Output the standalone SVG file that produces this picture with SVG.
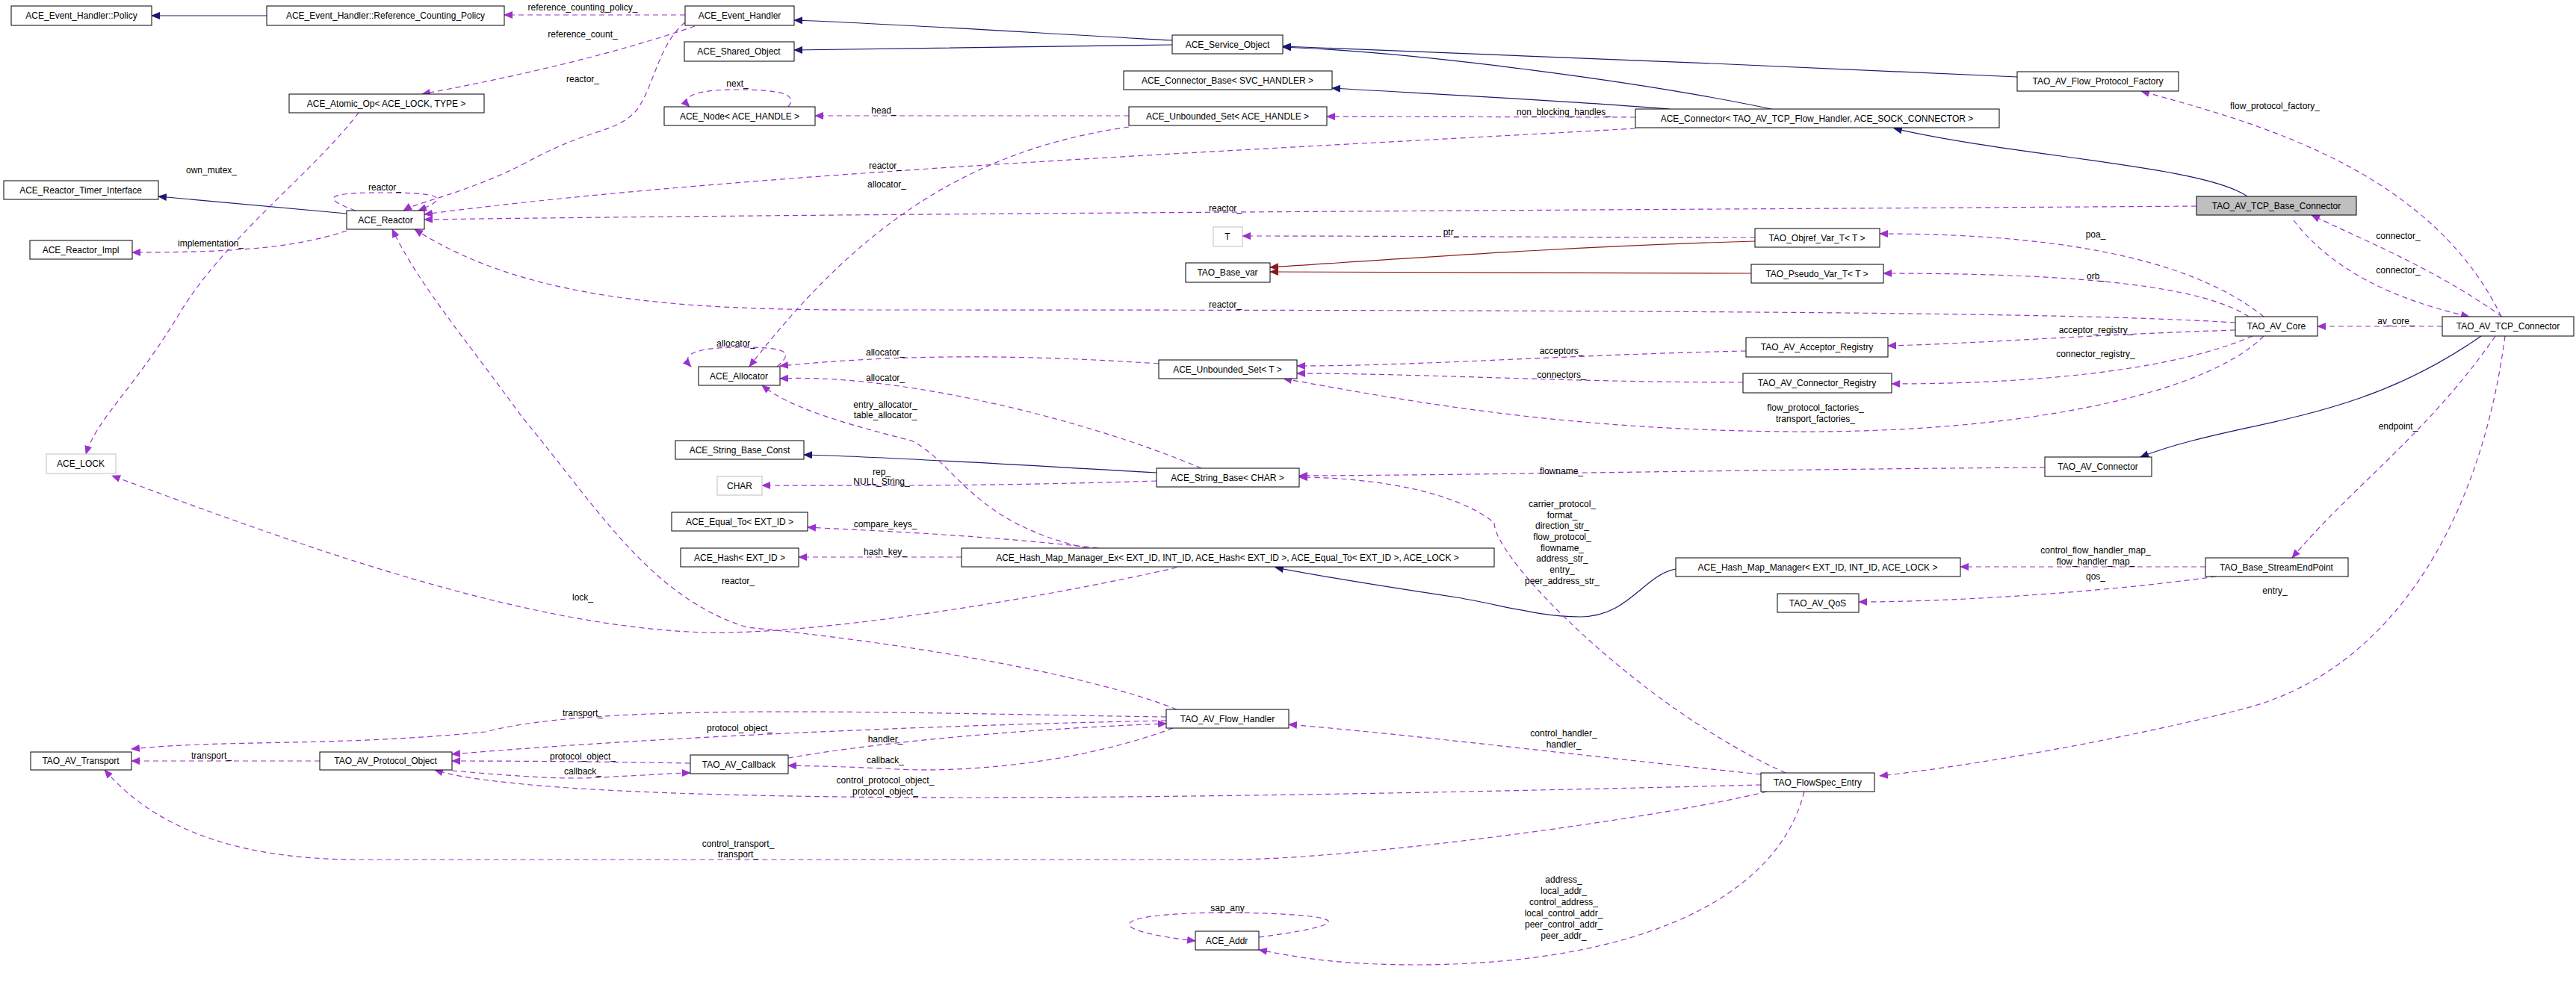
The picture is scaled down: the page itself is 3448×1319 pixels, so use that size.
<svg xmlns="http://www.w3.org/2000/svg" width="3448" height="1319" viewBox="0 0 3448 1319">
<style>
text{font-family:"Liberation Sans",Arial,sans-serif;font-size:12px;fill:#000}
.n rect{fill:#fff;stroke:#000;stroke-width:1}
.g rect{fill:#fff;stroke:#bfbfbf;stroke-width:1}
.n text,.g text,.lb{text-anchor:middle}
.b{stroke:#191970;fill:none;stroke-width:1.2;marker-end:url(#mb)}
.r{stroke:#8b1a1a;fill:none;stroke-width:1.2;marker-end:url(#mr)}
.p{stroke:#9a32cd;fill:none;stroke-width:1.2;stroke-dasharray:7,5;marker-end:url(#mp)}
</style>
<defs>
<marker id="mb" markerWidth="12" markerHeight="10" refX="11" refY="5" orient="auto" markerUnits="userSpaceOnUse"><path d="M0,0L12,5L0,10z" fill="#191970"/></marker>
<marker id="mr" markerWidth="12" markerHeight="10" refX="11" refY="5" orient="auto" markerUnits="userSpaceOnUse"><path d="M0,0L12,5L0,10z" fill="#8b1a1a"/></marker>
<marker id="mp" markerWidth="12" markerHeight="10" refX="11" refY="5" orient="auto" markerUnits="userSpaceOnUse"><path d="M0,0L12,5L0,10z" fill="#9a32cd"/></marker>
</defs>
<rect width="3448" height="1319" fill="#fff"/>
<g id="connectors">
<path class="b" d="M357,21L203,21"/>
<path class="b" d="M1569,54C1400,45 1200,32 1063,27"/>
<path class="b" d="M1569,60C1400,62 1200,66 1063,67"/>
<path class="b" d="M2700,103C2400,88 1900,70 1717,62"/>
<path class="b" d="M2371,146C2200,110 1900,70 1717,63"/>
<path class="b" d="M2235,146C2100,135 1900,125 1783,118"/>
<path class="b" d="M3008,263C2950,222 2700,210 2535,172"/>
<path class="b" d="M464,286L212,263"/>
<path class="b" d="M3321,450C3150,570 3000,560 2865,612"/>
<path class="b" d="M1548,633C1400,625 1200,612 1076,609"/>
<path class="b" d="M2243,762C2200,770 2180,826 2115,826C2060,826 2010,810 1950,800C1850,785 1760,770 1707,760"/>
<path class="r" d="M2349,323C2100,330 1900,345 1700,358"/>
<path class="r" d="M2344,366C2100,366 1900,364 1700,364"/>
<path class="p" d="M917,20L675,20"/>
<path class="p" d="M930,35C800,80 650,110 565,126"/>
<path class="p" d="M917,30C880,60 875,120 850,150C820,180 790,170 700,220C620,260 560,270 540,282"/>
<path class="p" d="M480,151C420,230 300,320 240,420C180,520 130,560 115,608"/>
<path class="p" d="M476,282C420,262 450,258 512,258C580,258 610,262 560,282"/>
<path class="p" d="M464,309C400,330 330,338 177,338"/>
<path class="p" d="M1055,143C1070,125 1040,120 985,120C930,120 910,130 923,143"/>
<path class="p" d="M1511,155L1091,155"/>
<path class="p" d="M2189,157L1776,156"/>
<path class="p" d="M2189,172C1700,200 1000,230 568,287"/>
<path class="p" d="M1511,170C1300,200 1150,300 1003,491"/>
<path class="p" d="M2940,276C2400,280 1200,285 568,294"/>
<path class="p" d="M2349,318C2100,318 1900,316 1663,316"/>
<path class="p" d="M2992,432C2800,420 2400,415 1150,415C900,415 700,400 555,307"/>
<path class="p" d="M3030,424C2950,360 2800,313 2516,313"/>
<path class="p" d="M3010,424C2950,385 2800,366 2521,366"/>
<path class="p" d="M3349,424C3260,360 3160,320 3094,288"/>
<path class="p" d="M3070,295C3120,360 3200,400 3305,424"/>
<path class="p" d="M3348,424C3250,220 3000,160 2866,122"/>
<path class="p" d="M3269,437L3102,437"/>
<path class="p" d="M1040,491C1065,470 1050,465 990,465C930,465 910,475 925,491"/>
<path class="p" d="M1551,487C1300,470 1150,480 1044,490"/>
<path class="p" d="M1608,627C1450,560 1200,500 1044,507"/>
<path class="p" d="M1455,734C1300,700 1280,620 1220,590C1100,560 1050,540 1020,516"/>
<path class="p" d="M2337,470C2100,475 1900,490 1736,490"/>
<path class="p" d="M2333,512C2100,512 1900,500 1736,500"/>
<path class="p" d="M2992,442C2800,448 2650,460 2527,463"/>
<path class="p" d="M3015,450C2900,500 2700,514 2532,514"/>
<path class="p" d="M3030,450C2950,530 2700,580 2400,578C2100,576 1900,540 1718,507"/>
<path class="p" d="M2737,626C2400,628 2000,636 1739,637"/>
<path class="p" d="M1548,644C1300,652 1100,650 1020,650"/>
<path class="p" d="M1470,734C1300,715 1150,710 1081,706"/>
<path class="p" d="M1287,746L1069,746"/>
<path class="p" d="M1575,760C1400,800 1100,850 946,847C700,840 400,730 150,637"/>
<path class="p" d="M1575,950C1450,900 1200,860 1000,840C870,800 800,680 700,560C620,450 560,380 525,307"/>
<path class="p" d="M2390,1035C2200,950 2000,750 2000,700C1950,660 1850,640 1739,639"/>
<path class="p" d="M2952,759L2624,759"/>
<path class="p" d="M2966,772C2800,795 2600,806 2488,806"/>
<path class="p" d="M3340,450C3250,580 3150,650 3068,747"/>
<path class="p" d="M3353,450C3320,700 3200,900 3000,950C2800,1000 2600,1030 2516,1039"/>
<path class="p" d="M1561,960C1200,955 800,940 650,980C450,1000 300,990 176,1003"/>
<path class="p" d="M1561,965C1300,970 900,985 605,1010"/>
<path class="p" d="M1055,1015C1200,990 1400,975 1561,969"/>
<path class="p" d="M1570,975C1450,1020 1300,1035 1200,1030C1100,1025 1080,1026 1055,1025"/>
<path class="p" d="M428,1019L176,1019"/>
<path class="p" d="M924,1022C800,1020 700,1019 605,1019"/>
<path class="p" d="M605,1032C700,1040 760,1045 820,1040C870,1038 900,1035 924,1035"/>
<path class="p" d="M2357,1037C2100,1010 1900,985 1725,970"/>
<path class="p" d="M2357,1051C2000,1060 1600,1068 1300,1068C1000,1068 800,1060 700,1050C650,1045 610,1040 582,1031"/>
<path class="p" d="M2365,1060C2200,1100 1800,1151 1650,1151C1200,1151 700,1151 480,1151C300,1151 200,1100 140,1031"/>
<path class="p" d="M2415,1060C2380,1200 2200,1290 1900,1292C1780,1292 1730,1280 1685,1272"/>
<path class="p" d="M1685,1255C1800,1240 1830,1225 1650,1222C1480,1222 1470,1245 1600,1260"/>
</g>
<g id="labels">
<text class="lb" x="780" y="14">reference_counting_policy_</text>
<text class="lb" x="780" y="50">reference_count_</text>
<text class="lb" x="780" y="110">reactor_</text>
<text class="lb" x="283" y="232">own_mutex_</text>
<text class="lb" x="515" y="255">reactor_</text>
<text class="lb" x="282" y="330">implementation_</text>
<text class="lb" x="987" y="116">next_</text>
<text class="lb" x="1183" y="152">head_</text>
<text class="lb" x="2093" y="154">non_blocking_handles_</text>
<text class="lb" x="1185" y="226">reactor_</text>
<text class="lb" x="1187" y="251">allocator_</text>
<text class="lb" x="1640" y="283">reactor_</text>
<text class="lb" x="1942" y="315">ptr_</text>
<text class="lb" x="1640" y="412">reactor_</text>
<text class="lb" x="2805" y="318">poa_</text>
<text class="lb" x="2805" y="374">orb_</text>
<text class="lb" x="3210" y="320">connector_</text>
<text class="lb" x="3210" y="366">connector_</text>
<text class="lb" x="3045" y="146">flow_protocol_factory_</text>
<text class="lb" x="3207" y="434">av_core_</text>
<text class="lb" x="2805" y="446">acceptor_registry_</text>
<text class="lb" x="2805" y="478">connector_registry_</text>
<text class="lb" x="985" y="464">allocator_</text>
<text class="lb" x="1185" y="476">allocator_</text>
<text class="lb" x="1185" y="510">allocator_</text>
<text class="lb" x="1185" y="546">entry_allocator_</text>
<text class="lb" x="1185" y="560">table_allocator_</text>
<text class="lb" x="2090" y="474">acceptors_</text>
<text class="lb" x="2090" y="506">connectors_</text>
<text class="lb" x="2430" y="550">flow_protocol_factories_</text>
<text class="lb" x="2430" y="565">transport_factories_</text>
<text class="lb" x="2090" y="635">flowname_</text>
<text class="lb" x="1180" y="636">rep_</text>
<text class="lb" x="1180" y="649">NULL_String_</text>
<text class="lb" x="1185" y="706">compare_keys_</text>
<text class="lb" x="1185" y="743">hash_key_</text>
<text class="lb" x="780" y="804">lock_</text>
<text class="lb" x="988" y="782">reactor_</text>
<text class="lb" x="2091" y="679">carrier_protocol_</text>
<text class="lb" x="2091" y="694">format_</text>
<text class="lb" x="2091" y="708">direction_str_</text>
<text class="lb" x="2091" y="723">flow_protocol_</text>
<text class="lb" x="2091" y="738">flowname_</text>
<text class="lb" x="2091" y="752">address_str_</text>
<text class="lb" x="2091" y="767">entry_</text>
<text class="lb" x="2091" y="782">peer_address_str_</text>
<text class="lb" x="2805" y="741">control_flow_handler_map_</text>
<text class="lb" x="2805" y="756">flow_handler_map_</text>
<text class="lb" x="2805" y="776">qos_</text>
<text class="lb" x="3210" y="575">endpoint_</text>
<text class="lb" x="3045" y="795">entry_</text>
<text class="lb" x="780" y="959">transport_</text>
<text class="lb" x="990" y="979">protocol_object_</text>
<text class="lb" x="1185" y="994">handler_</text>
<text class="lb" x="1185" y="1022">callback_</text>
<text class="lb" x="283" y="1016">transport_</text>
<text class="lb" x="780" y="1017">protocol_object_</text>
<text class="lb" x="780" y="1037">callback_</text>
<text class="lb" x="2093" y="986">control_handler_</text>
<text class="lb" x="2093" y="1001">handler_</text>
<text class="lb" x="1185" y="1049">control_protocol_object_</text>
<text class="lb" x="1185" y="1064">protocol_object_</text>
<text class="lb" x="988" y="1134">control_transport_</text>
<text class="lb" x="988" y="1148">transport_</text>
<text class="lb" x="2093" y="1182">address_</text>
<text class="lb" x="2093" y="1197">local_addr_</text>
<text class="lb" x="2093" y="1212">control_address_</text>
<text class="lb" x="2093" y="1227">local_control_addr_</text>
<text class="lb" x="2093" y="1242">peer_control_addr_</text>
<text class="lb" x="2093" y="1257">peer_addr_</text>
<text class="lb" x="1643" y="1220">sap_any</text>
</g>
<g id="n1" class="n"><rect x="15" y="8" width="188" height="26"/><text x="109" y="25">ACE_Event_Handler::Policy</text></g>
<g id="n2" class="n"><rect x="357" y="8" width="318" height="26"/><text x="516" y="25">ACE_Event_Handler::Reference_Counting_Policy</text></g>
<g id="n3" class="n"><rect x="917" y="8" width="146" height="26"/><text x="990" y="25">ACE_Event_Handler</text></g>
<g id="n4" class="n"><rect x="916" y="56" width="147" height="26"/><text x="989" y="73">ACE_Shared_Object</text></g>
<g id="n5" class="n"><rect x="387" y="126" width="261" height="25"/><text x="517" y="143">ACE_Atomic_Op&lt; ACE_LOCK, TYPE &gt;</text></g>
<g id="n6" class="n"><rect x="889" y="143" width="202" height="25"/><text x="990" y="160">ACE_Node&lt; ACE_HANDLE &gt;</text></g>
<g id="n7" class="n"><rect x="5" y="242" width="207" height="25"/><text x="108" y="259">ACE_Reactor_Timer_Interface</text></g>
<g id="n8" class="n"><rect x="464" y="282" width="104" height="25"/><text x="516" y="299">ACE_Reactor</text></g>
<g id="n9" class="n"><rect x="40" y="322" width="137" height="25"/><text x="108" y="339">ACE_Reactor_Impl</text></g>
<g id="n10" class="n"><rect x="1569" y="47" width="148" height="25"/><text x="1643" y="64">ACE_Service_Object</text></g>
<g id="n11" class="n"><rect x="1504" y="95" width="279" height="25"/><text x="1643" y="112">ACE_Connector_Base&lt; SVC_HANDLER &gt;</text></g>
<g id="n12" class="n"><rect x="1511" y="143" width="265" height="25"/><text x="1643" y="160">ACE_Unbounded_Set&lt; ACE_HANDLE &gt;</text></g>
<g id="n13" class="n"><rect x="2189" y="146" width="487" height="25"/><text x="2432" y="163">ACE_Connector&lt; TAO_AV_TCP_Flow_Handler, ACE_SOCK_CONNECTOR &gt;</text></g>
<g id="n14" class="g"><rect x="1624" y="304" width="39" height="26"/><text x="1643" y="321">T</text></g>
<g id="n15" class="n"><rect x="1587" y="352" width="113" height="26"/><text x="1643" y="369">TAO_Base_var</text></g>
<g id="n16" class="n"><rect x="2700" y="96" width="216" height="26"/><text x="2808" y="113">TAO_AV_Flow_Protocol_Factory</text></g>
<g id="n17" class="n"><rect x="2940" y="263" width="214" height="25" style="fill:#bfbfbf"/><text x="3047" y="280">TAO_AV_TCP_Base_Connector</text></g>
<g id="n18" class="n"><rect x="2349" y="306" width="167" height="25"/><text x="2432" y="323">TAO_Objref_Var_T&lt; T &gt;</text></g>
<g id="n19" class="n"><rect x="2344" y="354" width="177" height="25"/><text x="2432" y="371">TAO_Pseudo_Var_T&lt; T &gt;</text></g>
<g id="n20" class="n"><rect x="2992" y="424" width="110" height="26"/><text x="3047" y="441">TAO_AV_Core</text></g>
<g id="n21" class="n"><rect x="3269" y="424" width="176" height="26"/><text x="3357" y="441">TAO_AV_TCP_Connector</text></g>
<g id="n22" class="n"><rect x="935" y="491" width="109" height="25"/><text x="989" y="508">ACE_Allocator</text></g>
<g id="n23" class="g"><rect x="62" y="608" width="93" height="26"/><text x="108" y="625">ACE_LOCK</text></g>
<g id="n24" class="n"><rect x="904" y="590" width="172" height="25"/><text x="990" y="607">ACE_String_Base_Const</text></g>
<g id="n25" class="g"><rect x="960" y="638" width="60" height="25"/><text x="990" y="655">CHAR</text></g>
<g id="n26" class="n"><rect x="899" y="686" width="182" height="25"/><text x="990" y="703">ACE_Equal_To&lt; EXT_ID &gt;</text></g>
<g id="n27" class="n"><rect x="911" y="734" width="158" height="25"/><text x="990" y="751">ACE_Hash&lt; EXT_ID &gt;</text></g>
<g id="n28" class="n"><rect x="1551" y="482" width="185" height="25"/><text x="1643" y="499">ACE_Unbounded_Set&lt; T &gt;</text></g>
<g id="n29" class="n"><rect x="1548" y="627" width="191" height="25"/><text x="1643" y="644">ACE_String_Base&lt; CHAR &gt;</text></g>
<g id="n30" class="n"><rect x="1287" y="734" width="713" height="25"/><text x="1643" y="751">ACE_Hash_Map_Manager_Ex&lt; EXT_ID, INT_ID, ACE_Hash&lt; EXT_ID &gt;, ACE_Equal_To&lt; EXT_ID &gt;, ACE_LOCK &gt;</text></g>
<g id="n31" class="n"><rect x="2243" y="747" width="381" height="25"/><text x="2433" y="764">ACE_Hash_Map_Manager&lt; EXT_ID, INT_ID, ACE_LOCK &gt;</text></g>
<g id="n32" class="n"><rect x="2337" y="452" width="190" height="26"/><text x="2432" y="469">TAO_AV_Acceptor_Registry</text></g>
<g id="n33" class="n"><rect x="2333" y="500" width="199" height="26"/><text x="2432" y="517">TAO_AV_Connector_Registry</text></g>
<g id="n34" class="n"><rect x="2737" y="612" width="143" height="26"/><text x="2808" y="629">TAO_AV_Connector</text></g>
<g id="n35" class="n"><rect x="2952" y="747" width="191" height="25"/><text x="3047" y="764">TAO_Base_StreamEndPoint</text></g>
<g id="n36" class="n"><rect x="2379" y="795" width="109" height="25"/><text x="2433" y="812">TAO_AV_QoS</text></g>
<g id="n37" class="n"><rect x="41" y="1007" width="135" height="24"/><text x="108" y="1023">TAO_AV_Transport</text></g>
<g id="n38" class="n"><rect x="428" y="1007" width="177" height="24"/><text x="516" y="1023">TAO_AV_Protocol_Object</text></g>
<g id="n39" class="n"><rect x="924" y="1011" width="131" height="25"/><text x="989" y="1028">TAO_AV_Callback</text></g>
<g id="n40" class="n"><rect x="1561" y="950" width="164" height="25"/><text x="1643" y="967">TAO_AV_Flow_Handler</text></g>
<g id="n41" class="n"><rect x="2357" y="1035" width="152" height="25"/><text x="2433" y="1052">TAO_FlowSpec_Entry</text></g>
<g id="n42" class="n"><rect x="1600" y="1247" width="85" height="25"/><text x="1642" y="1264">ACE_Addr</text></g>
</svg>
